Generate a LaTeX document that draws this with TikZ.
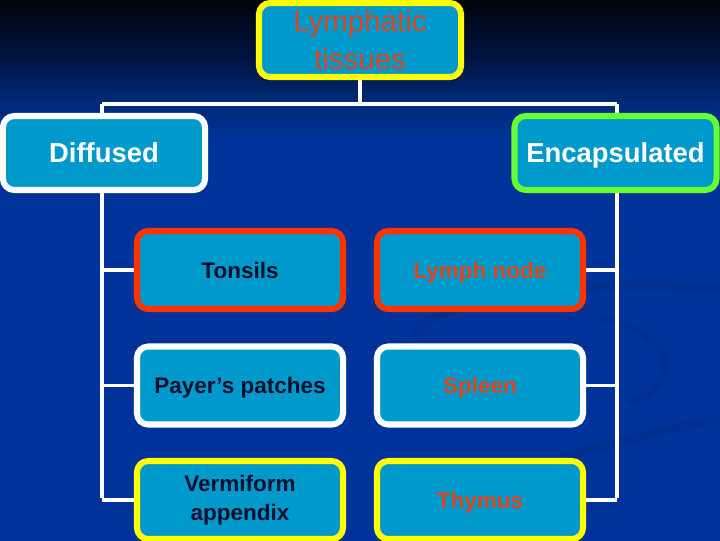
\documentclass[tikz,border=0pt]{standalone}
\usepackage{fontspec}
\setmainfont{Liberation Sans}
\usetikzlibrary{positioning, backgrounds}
\definecolor{slideNavy}{HTML}{00030C}
\definecolor{slideDeep}{HTML}{001443}
\definecolor{slideMid}{HTML}{002A78}
\definecolor{slideBlue}{HTML}{003399}
\definecolor{swirlBlue}{HTML}{00277F}
\definecolor{boxCyan}{HTML}{0099CC}
\definecolor{rimYellow}{HTML}{FFFF00}
\definecolor{rimRed}{HTML}{FF3300}
\definecolor{rimGreen}{HTML}{66FF33}
\definecolor{textRed}{HTML}{DD451C}
\definecolor{textDark}{HTML}{00102E}
\pgfdeclareverticalshading{slideSky}{100bp}{color(0bp)=(slideBlue); color(62bp)=(slideBlue); color(65.5bp)=(slideMid); color(69.5bp)=(slideDeep); color(75bp)=(slideNavy); color(100bp)=(slideNavy)}

\begin{document}
\begin{tikzpicture}[x=0.025cm, y=0.025cm,
    tissue/.style={draw, line width=4.3pt, fill=boxCyan, rounded corners=8pt, align=center, inner sep=2pt},
    kind/.style={tissue, text height=14pt, text depth=0pt, minimum width=5.05cm, minimum height=1.85cm, text=white, font=\fontsize{19.5}{23}\selectfont\bfseries},
    organ/.style={tissue, minimum width=5.15cm, minimum height=1.95cm, font=\fontsize{16}{21}\selectfont\bfseries},
    oneline/.style={text height=11.5pt, text depth=0pt},
    swirl/.style={swirlBlue, opacity=0.25, line cap=round},
    link/.style={draw=white, line width=2.2pt}]
    \useasboundingbox (0,0) rectangle (720,540);
    \clip (0,0) rectangle (720,540);
    % root and the two groups
    \node[tissue, draw=rimYellow, minimum width=5.05cm, minimum height=1.85cm, text=textRed, font=\fontsize{21}{27}\selectfont] (lymphatic) at (360,500) {Lymphatic\\tissues};
    \node[kind, draw=white] (diffused) at (104,387) {Diffused};
    \node[kind, draw=rimGreen] (encapsulated) at (615.5,387) {Encapsulated};
    % diffused members
    \node[organ, oneline, draw=rimRed, text=textDark] (tonsils) at (240,270) {Tonsils};
    \node[organ, oneline, draw=white, text=textDark] (payer) at (240,154.5) {Payer’s patches};
    \node[organ, draw=rimYellow, text=textDark] (appendix) at (240,40) {Vermiform\\appendix};
    % encapsulated members
    \node[organ, oneline, draw=rimRed, text=textRed] (lymphnode) at (480,270) {Lymph node};
    \node[organ, oneline, draw=white, text=textRed] (spleen) at (480,154.5) {Spleen};
    \node[organ, oneline, draw=rimYellow, text=textRed] (thymus) at (480,40) {Thymus};
    \coordinate (split) at (360,436);
    \coordinate (leftTop) at (102,436);
    \coordinate (rightTop) at (617,436);
    \coordinate (leftEnd) at (102,42);
    \coordinate (rightEnd) at (617,42);
    \begin{scope}[on background layer]
      \shade[shading=slideSky] (0,0) rectangle (720,540);
      \draw[swirl, line width=7pt] (415,205) .. controls (440,250) and (620,262) .. (720,250);
      \draw[swirl, line width=6pt] (560,82) .. controls (620,100) and (680,112) .. (720,122);
      \draw[swirl, line width=5pt] (600,222) .. controls (670,210) and (690,160) .. (630,138);
      \path[link] (lymphatic.south) -- (split);
      \path[link] (leftTop) -- (rightTop);
      \path[link] (leftTop) -- (leftEnd);
      \path[link] (rightTop) -- (rightEnd);
      \path[link] (tonsils.west) -- (tonsils.west -| leftTop);
      \path[link] (payer.west) -- (payer.west -| leftTop);
      \path[link] (appendix.west) -- (appendix.west -| leftTop);
      \path[link] (lymphnode.east) -- (lymphnode.east -| rightTop);
      \path[link] (spleen.east) -- (spleen.east -| rightTop);
      \path[link] (thymus.east) -- (thymus.east -| rightTop);
    \end{scope}
\end{tikzpicture}
\end{document}
